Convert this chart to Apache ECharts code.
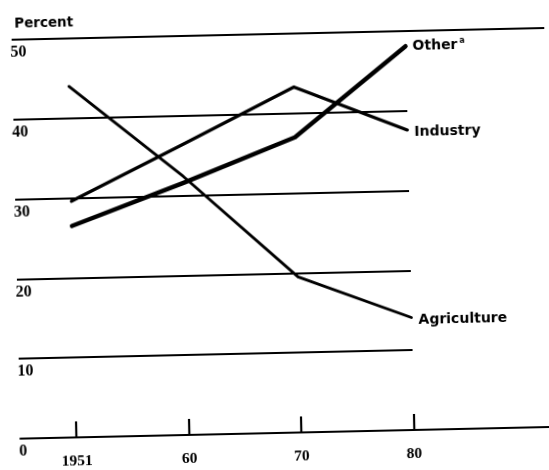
<!DOCTYPE html>
<html>
<head>
<meta charset="utf-8">
<script src="https://cdn.jsdelivr.net/npm/echarts@6/dist/echarts.min.js"></script>
<style>
html,body{margin:0;padding:0;background:#fff;overflow:hidden;}
#chart{width:549px;height:470px;transform:rotate(-1.26deg);transform-origin:50% 50%;}
</style>
</head>
<body>
<div id="chart"></div>
<script>
// Data
const categories = ['1951', '60', '70', '80'];
const agriculture = [44, 32.4, 19.5, 14.1];
const industry = [29.6, 36.4, 43.3, 37.6];
const other = [26.5, 31.6, 37.0, 48.1];
const yTicks = [0, 10, 20, 30, 40, 50];

const ink = '#000';
const serif = 'Liberation Serif';
const sans = 'DejaVu Sans';
const idx = categories.map((c, i) => i);

const chart = echarts.init(document.getElementById('chart'), null, {renderer: 'canvas'});

function lineSeries(name, values, width, label, offsetY) {
  return {
    type: 'line',
    name: name,
    xAxisIndex: 0,
    yAxisIndex: 0,
    data: values.map((v, i) => [i, v]),
    symbol: 'none',
    silent: true,
    animation: false,
    lineStyle: {color: ink, width: width, cap: 'round', join: 'round'},
    endLabel: {
      show: true,
      distance: 7,
      offset: [0, offsetY],
      formatter: label,
      color: ink,
      fontFamily: sans,
      fontWeight: 'bold',
      fontSize: 14,
      rich: {
        n: {fontFamily: sans, fontWeight: 'bold', fontSize: 14, color: ink},
        s: {fontFamily: sans, fontWeight: 'bold', fontSize: 8, color: ink, padding: [0, 0, 9, 2]}
      }
    }
  };
}

chart.setOption({
  backgroundColor: '#fff',
  animation: false,
  title: {
    text: 'Percent',
    left: 14,
    top: 6,
    textStyle: {fontFamily: sans, fontWeight: 'bold', fontSize: 13.5, color: ink}
  },
  grid: [
    {left: 16, right: 0, top: 34, bottom: 37},
    {left: 16, right: 139, top: 34, bottom: 37}
  ],
  xAxis: [
    {
      type: 'value', gridIndex: 0, min: -0.5, max: 4.24,
      axisLine: {show: true, lineStyle: {color: ink, width: 2.2}},
      axisTick: {show: true, inside: true, length: 16, customValues: idx, lineStyle: {color: ink, width: 2.2}},
      axisLabel: {
        customValues: idx,
        formatter: v => categories[Math.round(v)],
        margin: 16,
        color: ink, fontFamily: serif, fontWeight: 'bold', fontSize: 15.5
      },
      splitLine: {show: false}
    },
    {
      type: 'value', gridIndex: 1, min: -0.5, max: 3, show: false
    }
  ],
  yAxis: [
    {
      type: 'value', gridIndex: 0, min: yTicks[0], max: yTicks[yTicks.length - 1], interval: 10,
      axisLine: {show: false},
      axisTick: {show: false},
      axisLabel: {
        align: 'left', verticalAlign: 'top', margin: 1.5,
        lineHeight: 16, padding: [5, 0, 0, 0],
        color: ink, fontFamily: serif, fontWeight: 'bold', fontSize: 16
      },
      splitLine: {show: true, lineStyle: {width: 2, color: ['transparent', 'transparent', 'transparent', 'transparent', 'transparent', ink]}}
    },
    {
      type: 'value', gridIndex: 1, min: yTicks[0], max: yTicks[yTicks.length - 1], interval: 10,
      axisLine: {show: false},
      axisTick: {show: false},
      axisLabel: {show: false},
      splitLine: {show: true, lineStyle: {width: 2, color: ['transparent', ink, ink, ink, ink, 'transparent']}}
    }
  ],
  series: [
    lineSeries('Agriculture', agriculture, 2.8, 'Agriculture', 3),
    lineSeries('Industry', industry, 3.2, 'Industry', 2),
    lineSeries('Other', other, 4.4, '{n|Other}{s|a}', 0)
  ]
});
</script>
</body>
</html>
